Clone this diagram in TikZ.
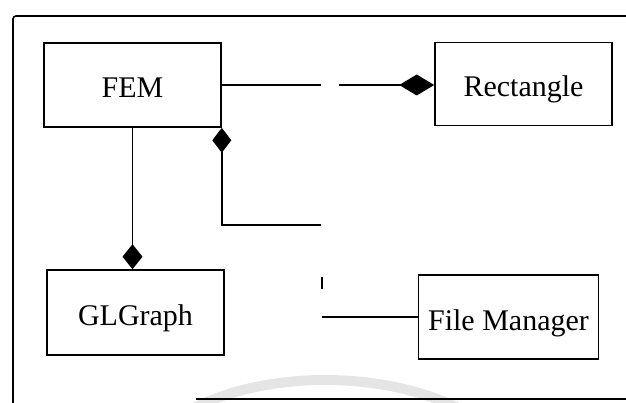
\documentclass[tikz,border=0pt]{standalone}
\usepackage{fontspec}
\setmainfont{Liberation Serif}
\usetikzlibrary{arrows.meta,calc}
\tikzset{every node/.style={font=\fontsize{30}{32}\selectfont},box/.style={draw,line width=1.6pt,minimum width=177pt,minimum height=84pt,inner sep=0pt,text height=26pt,text depth=0pt},edge/.style={line width=1.6pt},comp/.style={edge,-{Diamond[length=35pt,width=21pt]}},compv/.style={edge,-{Diamond[length=25pt,width=20pt]}}}

\begin{document}
\begin{tikzpicture}[x=1pt,y=-1pt]
\useasboundingbox (0,0) rectangle (626,403);
% watermark arc and frame
\draw[gray!20,line width=10pt] (190,410) .. controls (265,370) and (385,370) .. (462,410);
\draw[edge,rounded corners=3pt] (13,403)--(13,16)--(626,16);\draw[edge] (196,399)--(626,399);
\node[box] (fem) at (132.5,85){FEM};
\node[box,minimum height=83pt] (rect) at (523.5,84){Rectangle};
\node[box,minimum height=85pt] (glgraph) at (135.5,312.5){GLGraph};
\node[box,minimum width=180pt] (filemgr) at (508.5,317){File Manager};
% FEM -- Rectangle
\path (fem.east) ++(99,0) coordinate (g1) ++(18,0) coordinate (g2);
\draw[edge] (fem.east)--(g1);\draw[comp] (g2)--(g2 -| rect.west);
% FEM -- GLGraph
\draw[compv] (fem.south)--(fem.south |- glgraph.north);
% FEM -- File Manager
\coordinate (c1) at ($(fem.south east)+(0,97)$);\coordinate (c2) at ($(c1)+(99,0)$);
\coordinate (m1) at (322,277);\coordinate (m2) at (322,289);\coordinate (c3) at (filemgr.west -| m1);
\draw[edge,{Diamond[length=25pt,width=19pt]}-] (fem.south east)--(c1)--(c2);
\draw[edge] (m1)--(m2);\draw[edge] (c3)--(filemgr.west);
\end{tikzpicture}
\end{document}
